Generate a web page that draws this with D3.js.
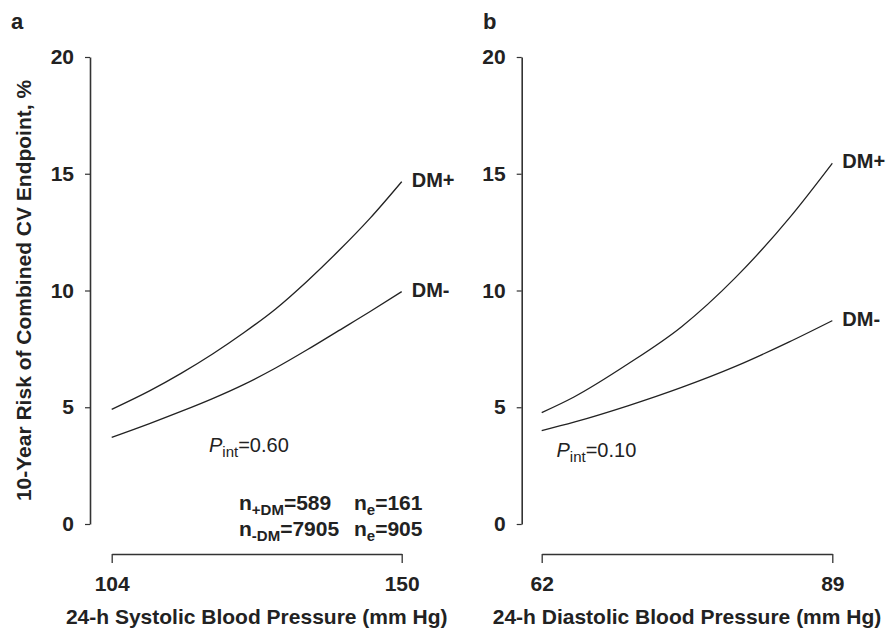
<!DOCTYPE html>
<html>
<head>
<meta charset="utf-8">
<script src="https://cdn.jsdelivr.net/npm/d3@7"></script>
<style>
  body { margin: 0; background: #fff; }
  svg text { font-family: "Liberation Sans", Arial, Helvetica, sans-serif; fill: #222; }
</style>
</head>
<body>
<script>
// Panel a: 24-h systolic BP vs 10-year risk (%)
const sbpX = [104, 110, 115, 120, 125, 130, 135, 140, 145, 150];
const sbpDMplus = [4.91, 5.70, 6.45, 7.28, 8.2, 9.21, 10.4, 11.7, 13.1, 14.66];
const sbpDMminus = [3.71, 4.30, 4.82, 5.37, 5.98, 6.68, 7.46, 8.28, 9.1, 9.95];

// Panel b: 24-h diastolic BP vs 10-year risk (%)
const dbpX = [62, 65, 70, 75, 80, 85, 89];
const dbpDMplus = [4.77, 5.44, 6.85, 8.45, 10.55, 13.1, 15.45];
const dbpDMminus = [4.0, 4.36, 5.06, 5.85, 6.75, 7.8, 8.71];

const yTicks = [0, 5, 10, 15, 20];
const seriesNames = ['DM+', 'DM-'];

const width = 888, height = 632;
const svg = d3.select('body').append('svg')
  .attr('width', width)
  .attr('height', height);

const y = d3.scaleLinear().domain([0, 20]).range([524, 57]);

const panels = [
  {
    letter: 'a', letterX: 11, axisX: 90,
    x: d3.scaleLinear().domain([104, 150]).range([111.7, 401.7]),
    xs: sbpX, series: [sbpDMplus, sbpDMminus],
    xTitle: '24-h Systolic Blood Pressure (mm Hg)',
    pint: '0.60', pintPos: [209, 452]
  },
  {
    letter: 'b', letterX: 483, axisX: 521.7,
    x: d3.scaleLinear().domain([62, 89]).range([541.7, 832.3]),
    xs: dbpX, series: [dbpDMplus, dbpDMminus],
    xTitle: '24-h Diastolic Blood Pressure (mm Hg)',
    pint: '0.10', pintPos: [556.5, 457]
  }
];

panels.forEach(p => {
  const g = svg.append('g');

  // panel letter
  g.append('text')
    .attr('x', p.letterX).attr('y', 29)
    .style('font-size', '22px').style('font-weight', 'bold')
    .text(p.letter);

  // y axis
  const yAxis = g.append('g')
    .attr('transform', `translate(${p.axisX},0)`)
    .call(d3.axisLeft(y).tickValues(yTicks).tickSizeInner(5).tickSizeOuter(0).tickPadding(11));
  yAxis.select('.domain').attr('stroke', '#333').attr('stroke-width', 1.6);
  yAxis.selectAll('.tick line').attr('stroke', '#333').attr('stroke-width', 1.2);
  yAxis.selectAll('.tick text')
    .style('font-size', '21px').style('font-weight', 'bold')
    .attr('fill', '#222');

  // x axis
  const xd = p.x.domain();
  const xAxis = g.append('g')
    .attr('transform', 'translate(0,554)')
    .call(d3.axisBottom(p.x).tickValues(xd).tickSizeInner(9).tickSizeOuter(0).tickPadding(13));
  xAxis.select('.domain').attr('stroke', '#333').attr('stroke-width', 1.3);
  xAxis.selectAll('.tick line').attr('stroke', '#333').attr('stroke-width', 1.3);
  xAxis.selectAll('.tick text')
    .style('font-size', '21px').style('font-weight', 'bold')
    .attr('fill', '#222');

  // x title
  const xr = p.x.range();
  g.append('text')
    .attr('x', (xr[0] + xr[1]) / 2).attr('y', 624)
    .attr('text-anchor', 'middle')
    .style('font-size', '21px').style('font-weight', 'bold')
    .text(p.xTitle);

  // curves
  const line = d3.line()
    .x((d, i) => p.x(p.xs[i]))
    .y(d => y(d))
    .curve(d3.curveMonotoneX);

  p.series.forEach((vals, k) => {
    g.append('path')
      .datum(vals)
      .attr('d', line)
      .attr('fill', 'none')
      .attr('stroke', '#222')
      .attr('stroke-width', 1.3);

    const last = vals[vals.length - 1];
    g.append('text')
      .attr('x', p.x(p.xs[p.xs.length - 1]) + 10)
      .attr('y', y(last) + 5)
      .style('font-size', '20px').style('font-weight', 'bold')
      .text(seriesNames[k]);
  });

  // P_int annotation
  const pt = g.append('text')
    .attr('x', p.pintPos[0]).attr('y', p.pintPos[1])
    .style('font-size', '20px');
  pt.append('tspan').style('font-style', 'italic').text('P');
  pt.append('tspan').attr('dy', 5).style('font-size', '15px').text('int');
  pt.append('tspan').attr('dy', -5).text('=' + p.pint);
});

// sample sizes / events in panel a
const nRows = [
  { sub: '+DM', n: '589', ne: '161' },
  { sub: '-DM', n: '7905', ne: '905' }
];
nRows.forEach((r, i) => {
  const yy = 510 + i * 26;
  const t1 = svg.append('text')
    .attr('x', 239).attr('y', yy)
    .style('font-size', '21px').style('font-weight', 'bold');
  t1.append('tspan').text('n');
  t1.append('tspan').attr('dy', 5).style('font-size', '15px').text(r.sub);
  t1.append('tspan').attr('dy', -5).text('=' + r.n);

  const t2 = svg.append('text')
    .attr('x', 354).attr('y', yy)
    .style('font-size', '21px').style('font-weight', 'bold');
  t2.append('tspan').text('n');
  t2.append('tspan').attr('dy', 5).style('font-size', '15px').text('e');
  t2.append('tspan').attr('dy', -5).text('=' + r.ne);
});

// y axis title
svg.append('text')
  .attr('transform', 'translate(31,290.5) rotate(-90)')
  .attr('text-anchor', 'middle')
  .style('font-size', '21px').style('font-weight', 'bold')
  .text('10-Year Risk of Combined CV Endpoint, %');
</script>
</body>
</html>
